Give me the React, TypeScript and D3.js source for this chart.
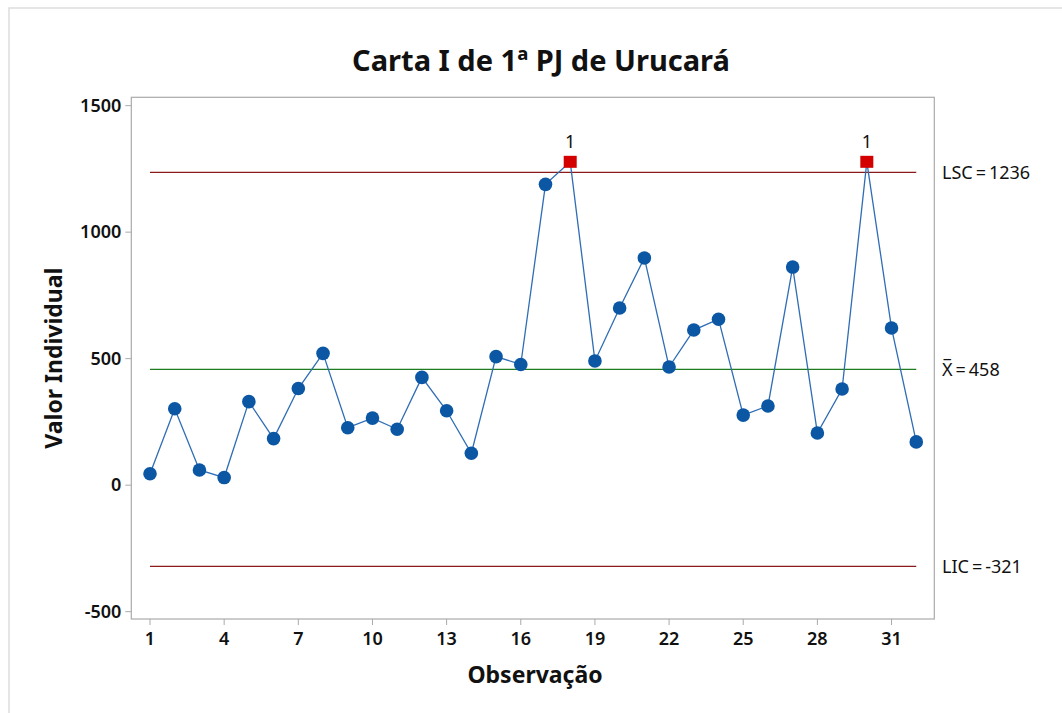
import React from "react";
import * as d3 from "d3";

const observations = Array.from({ length: 32 }, (_, i) => i + 1);
const values = [45, 302, 60, 30, 330, 184, 382, 521, 227, 265, 221, 426, 294, 126, 508, 477,
  1189, 1278, 491, 700, 898, 467, 613, 656, 277, 313, 862, 206, 380, 1278, 621, 171];
const outOfControl = [18, 30];
const ucl = 1236;
const mean = 458;
const lcl = -321;
const yTicks = [-500, 0, 500, 1000, 1500];
const xTicks = [1, 4, 7, 10, 13, 16, 19, 22, 25, 28, 31];

const W = 1062, H = 713;
const L = 131.3, R = 934.3, T = 97.3, B = 619;
const FONT = "'Noto Sans', 'Open Sans', sans-serif";

export default function App() {
  const x = d3.scaleLinear().domain([0.243, 32.73]).range([L, R]);
  const y = d3.scaleLinear().domain([-529, 1533]).range([B, T]);
  const line = d3.line<number>().x((_, i) => x(observations[i])).y((d) => y(d));
  const ctrl = [
    { v: ucl, color: "#8B1A1A", label: "LSC\u2009=\u2009" + ucl },
    { v: mean, color: "#1E7B1E", label: "X\u0305\u2009=\u2009" + mean },
    { v: lcl, color: "#8B1A1A", label: "LIC\u2009=\u2009" + lcl },
  ];
  return (
    <svg width={W} height={H} style={{ position: "absolute", left: 0, top: 0, background: "#fff" }}>
      <rect x={9} y={8} width={W} height={H} fill="#fff" stroke="#dddddd" strokeWidth={1.5} />
      <text x={541} y={71} textAnchor="middle" fontFamily={FONT} fontWeight="bold" fontSize={29} fill="#111">
        Carta I de 1ª PJ de Urucará
      </text>
      <rect x={L} y={T} width={R - L} height={B - T} fill="none" stroke="#aaaaaa" strokeWidth={1.2} />
      {yTicks.map((t) => (
        <g key={t}>
          <line x1={L - 6} x2={L} y1={y(t)} y2={y(t)} stroke="#aaaaaa" />
          <text x={L - 10} y={y(t)} dy="0.35em" textAnchor="end" fontFamily={FONT} fontSize={18} fontWeight={600} fill="#111">
            {t}
          </text>
        </g>
      ))}
      {xTicks.map((t) => (
        <g key={t}>
          <line x1={x(t)} x2={x(t)} y1={B} y2={B + 6} stroke="#aaaaaa" />
          <text x={x(t)} y={B + 26} textAnchor="middle" fontFamily={FONT} fontSize={18} fontWeight={600} fill="#111">
            {t}
          </text>
        </g>
      ))}
      <text x={535} y={683} textAnchor="middle" fontFamily={FONT} fontWeight="bold" fontSize={23} fill="#111">
        Observação
      </text>
      <text transform={`translate(62,${(T + B) / 2}) rotate(-90)`} textAnchor="middle" fontFamily={FONT} fontWeight="bold" fontSize={23} fill="#111">
        Valor Individual
      </text>
      {ctrl.map((c) => (
        <g key={c.label}>
          <line x1={x(1)} x2={x(32)} y1={y(c.v)} y2={y(c.v)} stroke={c.color} strokeWidth={1.2} />
          <text x={942} y={y(c.v)} dy="0.35em" fontFamily={FONT} fontSize={18} fill="#111">
            {c.label}
          </text>
        </g>
      ))}
      <path d={line(values) || ""} fill="none" stroke="#2F6DB5" strokeWidth={1.3} />
      {values.map((v, i) => {
        const o = observations[i];
        if (outOfControl.includes(o)) {
          return (
            <g key={o}>
              <rect x={x(o) - 6.5} y={y(v) - 6} width={13} height={12} fill="#D40000" />
              <text x={x(o)} y={y(v) - 14} textAnchor="middle" fontFamily={FONT} fontSize={18} fill="#111">1</text>
            </g>
          );
        }
        return <circle key={o} cx={x(o)} cy={y(v)} r={6.8} fill="#0B57A4" />;
      })}
    </svg>
  );
}
